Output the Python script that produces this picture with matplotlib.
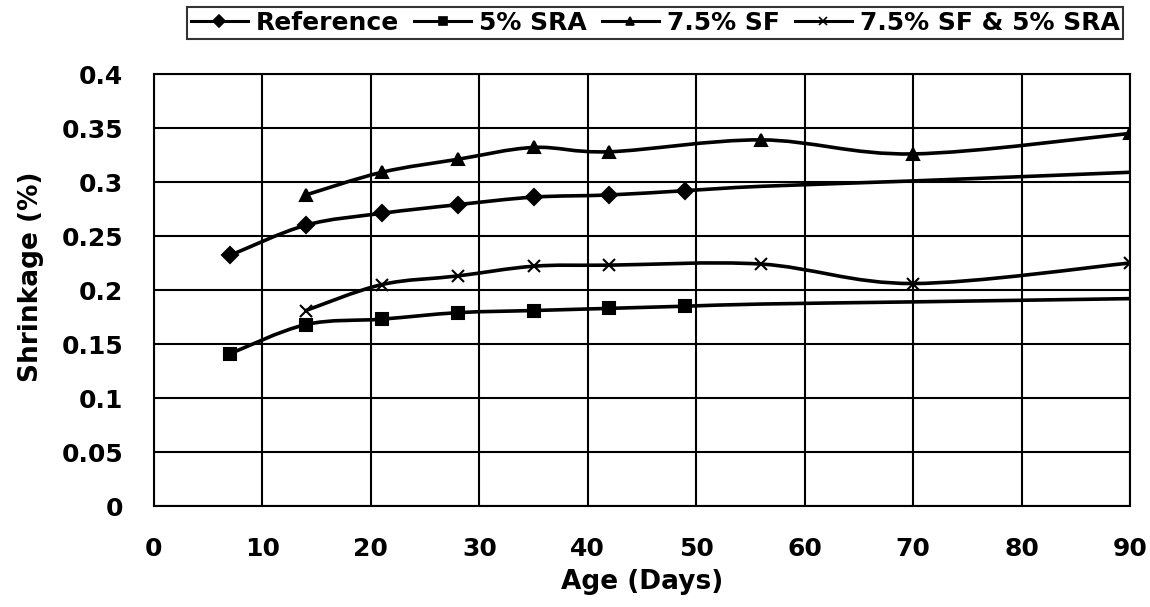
import matplotlib
matplotlib.use("Agg")
from matplotlib import pyplot as plt
from matplotlib.path import Path
from matplotlib.patches import PathPatch
from matplotlib.lines import Line2D

plt.rcParams["font.family"] = ["DejaVu Sans"]
plt.rcParams["font.weight"] = "bold"

# data
ageRef = [7, 14, 21, 28, 35, 42, 49, 56, 70, 90]
reference = [0.232, 0.260, 0.271, 0.279, 0.286, 0.288, 0.292, 0.296, 0.301, 0.309]
ageSra = [7, 14, 21, 28, 35, 42, 49, 56, 70, 90]
sra5 = [0.141, 0.168, 0.173, 0.179, 0.181, 0.183, 0.185, 0.187, 0.189, 0.192]
ageSf = [14, 21, 28, 35, 42, 56, 70, 90]
sf75 = [0.288, 0.309, 0.321, 0.332, 0.328, 0.339, 0.326, 0.345]
ageMix = [14, 21, 28, 35, 42, 56, 70, 90]
sfSra = [0.181, 0.205, 0.213, 0.222, 0.223, 0.224, 0.206, 0.225]

names = ["Reference", "5% SRA", "7.5% SF", "7.5% SF & 5% SRA"]
xTicks = [0, 10, 20, 30, 40, 50, 60, 70, 80, 90]
yTicks = [0, 0.05, 0.1, 0.15, 0.2, 0.25, 0.3, 0.35, 0.4]


def smoothPath(xs, ys):
    # catmull-rom style bezier, like excel "smoothed line"
    verts = [(xs[0], ys[0])]
    codes = [Path.MOVETO]
    n = len(xs)
    for i in range(n - 1):
        x0, y0 = (xs[i - 1], ys[i - 1]) if i > 0 else (xs[i], ys[i])
        x1, y1 = xs[i], ys[i]
        x2, y2 = xs[i + 1], ys[i + 1]
        x3, y3 = (xs[i + 2], ys[i + 2]) if i + 2 < n else (x2, y2)
        c1 = (x1 + (x2 - x0) / 6.0, y1 + (y2 - y0) / 6.0)
        c2 = (x2 - (x3 - x1) / 6.0, y2 - (y3 - y1) / 6.0)
        verts += [c1, c2, (x2, y2)]
        codes += [Path.CURVE4] * 3
    return Path(verts, codes)


fig = plt.figure(figsize=(11.5, 6.07), dpi=100)
ax = fig.add_axes([154 / 1150, 1 - 506 / 607, (1130 - 154) / 1150, (506 - 74) / 607])

series = [
    (ageRef, reference, "D", 8, 7),
    (ageSra, sra5, "s", 8, 7),
    (ageSf, sf75, "^", 9, 8),
    (ageMix, sfSra, "x", 9, 8),
]

handles = []
for (xs, ys, mk, ms, nMark), name in zip(series, names):
    ax.add_patch(PathPatch(smoothPath(xs, ys), fill=False, edgecolor="black",
                           linewidth=2.6, zorder=3))
    ax.plot(xs, ys, linestyle="none", marker=mk, markersize=ms, color="black",
            markeredgewidth=1.5, markevery=slice(0, nMark), zorder=4)
    handles.append(Line2D([], [], color="black", linewidth=2.2, marker=mk,
                          markersize=6, markeredgewidth=1.2))

ax.set_xlim(0, 90)
ax.set_ylim(0, 0.4)
ax.set_xticks(xTicks)
ax.set_yticks(yTicks)
ax.set_yticklabels(["%g" % v for v in yTicks])
ax.grid(True, color="black", linewidth=1.5)
ax.set_axisbelow(True)
for s in ax.spines.values():
    s.set_linewidth(1.5)
ax.tick_params(length=0, labelsize=18, pad=22)

ax.set_xlabel("Age (Days)", fontsize=19, fontweight="bold", labelpad=6)
ax.set_ylabel("Shrinkage (%)", fontsize=19, fontweight="bold")
ax.yaxis.set_label_coords(-0.113, 0.53)

leg = fig.legend(handles, names, loc="upper center", bbox_to_anchor=(655 / 1150, 1 - 7 / 607),
                 ncol=4, fontsize=18, frameon=True, fancybox=False, handlelength=2.3,
                 handletextpad=0.3, columnspacing=0.6, borderpad=0.15, borderaxespad=0)
leg.get_frame().set_edgecolor("black")
leg.get_frame().set_linewidth(1.5)

fig.savefig("out.png", dpi=100)
